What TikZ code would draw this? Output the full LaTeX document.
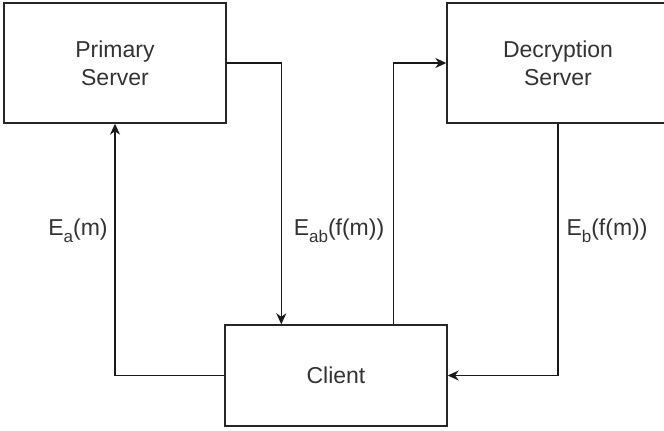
\documentclass[tikz,border=0pt]{standalone}
\usepackage{fontspec}
\setmainfont{Liberation Sans}
\usetikzlibrary{arrows.meta,calc}
\newcommand\lowsub[1]{\raisebox{-0.32em}{\fontsize{17}{17}\selectfont #1}}
\begin{document}
\begin{tikzpicture}[x=1pt,y=-1pt,
  box/.style={draw=black!85,line width=1.4pt,fill=white,minimum width=222pt,
    inner sep=0pt,align=center,text=black!80,font=\fontsize{23}{28}\selectfont},
  lbl/.style={text=black!80,inner sep=0pt,font=\fontsize{23}{28}\selectfont},
  arr/.style={draw=black!90,line width=1.4pt,
    -{Stealth[length=11pt,width=10pt,inset=3.5pt]}}]
  \useasboundingbox (0,0) rectangle (664,431);
  \clip (0,0) rectangle (664,431);

  % boxes
  \node[box,minimum height=120pt] (primary) at (115,63) {Primary\\Server};
  \node[box,minimum height=120pt] (decrypt) at (558,63) {Decryption\\Server};
  \node[box,minimum height=101pt] (client)  at (336,375.5) {Client};

  % message flow
  \draw[arr] (client.west) -| (primary.south);
  \draw[arr] (primary.east) -| ($(client.north west)+(57,0)$);
  \draw[arr] ($(client.north east)+(-54,0)$) |- (decrypt.west);
  \draw[arr] (decrypt.south) |- (client.east);

  % labels
  \node[lbl] (ea)  at (78,231)  {E\lowsub{a}(m)};
  \node[lbl] (eab) at (339,231) {E\lowsub{ab}(f(m))};
  \node[lbl] (eb)  at (607,231) {E\lowsub{b}(f(m))};
\end{tikzpicture}
\end{document}
